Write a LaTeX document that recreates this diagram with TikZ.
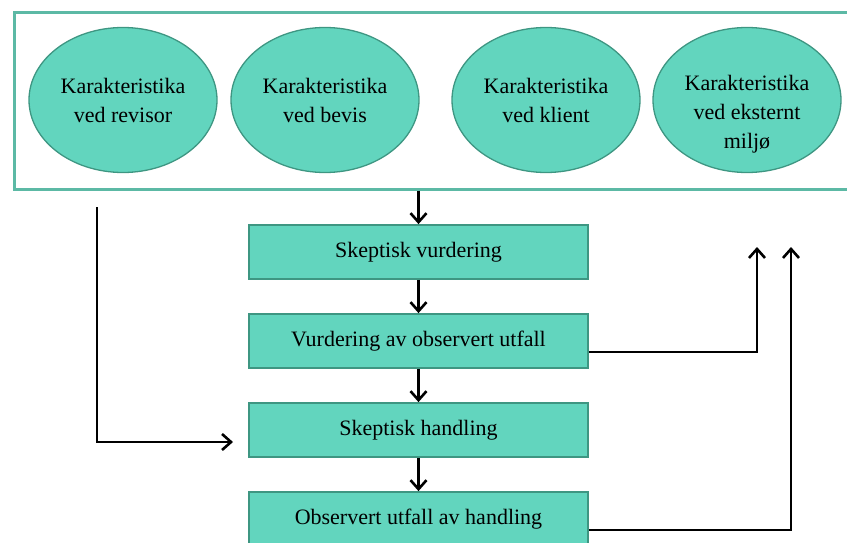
\documentclass[tikz,border=0pt]{standalone}
\usepackage{fontspec}
\setmainfont{Liberation Serif}
\usetikzlibrary{shapes.geometric,arrows.meta}
\definecolor{tealfill}{RGB}{98,213,190}
\definecolor{tealline}{RGB}{62,150,130}
\definecolor{frameline}{RGB}{92,185,165}
\begin{document}
\begin{tikzpicture}[x=1pt,y=-1pt,
  ell/.style={ellipse,draw=tealline,fill=tealfill,line width=1.3pt,minimum width=188pt,minimum height=145pt,inner sep=0pt,align=center,font=\fontsize{22}{29}\selectfont},
  txt/.style={align=center,inner sep=0pt,font=\fontsize{22}{29}\selectfont},
  stepbox/.style={rectangle,draw=tealline,fill=tealfill,line width=1.8pt,minimum width=339pt,minimum height=54pt,inner sep=0pt,font=\fontsize{22}{29}\selectfont},
  arr/.style={line width=2.6pt,-{Straight Barb[length=9pt,width=16pt,line width=2.6pt]}}]
\useasboundingbox (0,0) rectangle (847,543);
\clip (0,0) rectangle (847,543);
\node[draw=frameline,line width=2.6pt,minimum width=857pt,minimum height=177pt,anchor=north west,inner sep=0pt] (frame) at (13,11) {};
\node[ell] (e1) at (123,100) {Karakteristika\\ved revisor};
\node[ell] (e2) at (325,100) {Karakteristika\\ved bevis};
\node[ell] (e3) at (546,100) {Karakteristika\\ved klient};
\node[ell] (e4) at (747,100) {};
\node[txt] (t4) at (747,114) {Karakteristika\\ved eksternt\\miljø};
\node[stepbox] (b1) at (418.5,252) {Skeptisk vurdering};
\node[stepbox] (b2) at (418.5,341) {Vurdering av observert utfall};
\node[stepbox] (b3) at (418.5,430) {Skeptisk handling};
\node[stepbox] (b4) at (418.5,519) {Observert utfall av handling};
\draw[arr] (frame.south -| b1.north) -- (b1.north);
\draw[arr] (b1) -- (b2);
\draw[arr] (b2) -- (b3);
\draw[arr] (b3) -- (b4);
\coordinate (ls) at (97,207);
\coordinate (le) at (233,442);
\draw[arr] (ls) |- (le);
\coordinate (r1) at (757,247);
\coordinate (r2) at (791,247);
\draw[arr] ([yshift=-11pt]b2.east) -| (r1);
\draw[arr] ([yshift=-11pt]b4.east) -| (r2);
\end{tikzpicture}
\end{document}
